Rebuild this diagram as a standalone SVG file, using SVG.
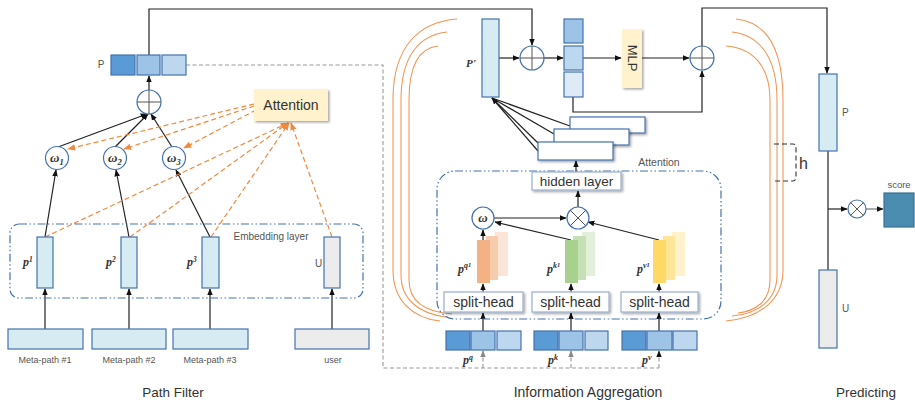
<svg xmlns="http://www.w3.org/2000/svg" width="915" height="403" viewBox="0 0 915 403">
<defs>
<style>
.bx{stroke:#4472b0;stroke-width:1.2}
.lb{fill:#d6ebf2}
.gy{fill:#ececec}
.c1{fill:#5b9bd5}.c2{fill:#9dc3e6}.c3{fill:#bdd7ee}.c4{fill:#deebf7}
.circ{fill:#fff;stroke:#4472b0;stroke-width:1.2}
.sym{stroke:#555;stroke-width:1;fill:none}
.ln{stroke:#222;stroke-width:1.2;fill:none}
.ar{marker-end:url(#ah)}
.od{stroke:#ef8a3f;stroke-width:1.2;stroke-dasharray:5 3;fill:none;marker-end:url(#ao)}
.gd{stroke:#999;stroke-width:1.1;stroke-dasharray:4 2.5;fill:none}
.dd{fill:none;stroke:#4472b0;stroke-width:1.2;stroke-dasharray:8 2.5 1.5 2.5 1.5 2.5}
.oc{fill:none;stroke:#f29450;stroke-width:1.05}
.wb{fill:#fff;stroke:#4472b0;stroke-width:1.2}
.wb2{fill:#fff;stroke:#9bb0cc;stroke-width:1.2}
.t{font-family:'Liberation Sans',Arial,sans-serif;fill:#333}
.s{font-family:'Liberation Sans',Arial,sans-serif;fill:#555}
.m{font-family:'Liberation Serif','DejaVu Serif',serif;font-style:italic;font-weight:bold;fill:#333}
</style>
<marker id="ah" viewBox="0 0 10 10" refX="9" refY="5" markerWidth="7" markerHeight="7" markerUnits="userSpaceOnUse" orient="auto"><path d="M0,1 L10,5 L0,9 z" fill="#111"/></marker>
<marker id="ao" viewBox="0 0 10 10" refX="9" refY="5" markerWidth="8" markerHeight="8" markerUnits="userSpaceOnUse" orient="auto"><path d="M0,1 L10,5 L0,9 z" fill="#ef8a3f"/></marker>
<marker id="ag" viewBox="0 0 10 10" refX="9" refY="5" markerWidth="7" markerHeight="7" markerUnits="userSpaceOnUse" orient="auto"><path d="M0,1 L10,5 L0,9 z" fill="#888"/></marker>
<filter id="sh" x="-20%" y="-20%" width="150%" height="170%"><feDropShadow dx="1.5" dy="1.5" stdDeviation="1.2" flood-color="#000" flood-opacity="0.35"/></filter>
</defs>
<rect width="915" height="403" fill="#fff"/>

<!-- connectors -->
<g id="connectors">
  <path class="gd" d="M186,65 H383 V368 H659"/>
  <path class="gd" d="M483,368 V351" marker-end="url(#ag)"/>
  <path class="gd" d="M571,368 V351" marker-end="url(#ag)"/>
  <path class="gd" d="M659,368 V351" marker-end="url(#ah)"/>
  <path class="ln ar" d="M149,55 V9 H532 V45"/>
  <path class="ln ar" d="M702,46 V8 H827 V73"/>
  <path class="ln ar" d="M149,90 V76"/>
  <path class="ln ar" d="M58,147 L147,114"/>
  <path class="ln ar" d="M115,147 L148,114"/>
  <path class="ln ar" d="M172,147 L151,114"/>
  <path class="ln ar" d="M45,237 L56,170"/>
  <path class="ln ar" d="M129,237 L116,170"/>
  <path class="ln ar" d="M210,237 L176,170"/>
  <path class="ln ar" d="M45,329 V289"/>
  <path class="ln ar" d="M129,329 V289"/>
  <path class="ln ar" d="M210,329 V289"/>
  <path class="ln ar" d="M332,329 V289"/>
  <path class="od" d="M254,104 L68,149"/>
  <path class="od" d="M254,106 L124,149"/>
  <path class="od" d="M256,110 L184,148"/>
  <path class="od" d="M45,237 L288,123"/>
  <path class="od" d="M130,237 L288,123"/>
  <path class="od" d="M211,237 L289,123"/>
  <path class="od" d="M332,237 L291,123"/>
  <path class="ln ar" d="M499,58 H519"/>
  <path class="ln ar" d="M544,58 H563"/>
  <path class="ln ar" d="M583,58 H621"/>
  <path class="ln ar" d="M642,58 H689"/>
  <path class="ln ar" d="M573,97 V112 H702 V71"/>
  <path class="ln" d="M570,126 L492,98"/>
  <path class="ln" d="M554,134 L492,98"/>
  <path class="ln" d="M538,143 L492,98"/>
  <path class="ln ar" d="M538,151 L492,98"/>
  <path class="ln ar" d="M576,172 V161"/>
  <path class="ln ar" d="M578,207 V191"/>
  <path class="ln ar" d="M494,218 H566"/>
  <path class="ln ar" d="M571,240 L495,222"/>
  <path class="ln ar" d="M659,240 L588,222"/>
  <path class="ln ar" d="M483,240 V230"/>
  <path class="ln ar" d="M483,292 V284"/>
  <path class="ln ar" d="M571,292 V284"/>
  <path class="ln ar" d="M659,292 V284"/>
  <path class="ln ar" d="M483,331 V313"/>
  <path class="ln ar" d="M571,331 V313"/>
  <path class="ln ar" d="M659,331 V313"/>
  <path class="ln" d="M828,151 V270"/>
  <path class="ln ar" d="M828,209 H847"/>
  <path class="ar" d="M866,209 H883" stroke="#777" stroke-width="1.2"/>
</g>

<g id="heads-left">
  <path class="oc" d="M457,19 C420,22 393,45 393,100 V270 C393,300 412,318 440,321"/>
  <path class="oc" d="M447,32 C420,35 401,55 401,100 V275 C401,300 420,314 446,317"/>
  <path class="oc" d="M438,46 C420,48 409,65 409,100 V280 C409,302 425,312 452,314"/>
</g>
<g id="heads-right">
  <path class="oc" d="M736,19 C765,22 783,45 783,100 V270 C783,300 760,318 726,321"/>
  <path class="oc" d="M732,32 C758,35 777,55 777,100 V275 C777,300 758,314 732,316"/>
  <path class="oc" d="M726,46 C752,48 770,65 770,100 V280 C770,302 755,311 738,313"/>
</g>
<g id="h-bracket">
  <path d="M774,144 H793 Q796,144 796,148 V177 Q796,181 793,181 H774" fill="none" stroke="#333" stroke-width="1.1" stroke-dasharray="5 3"/>
  <text class="t" x="799" y="169" font-size="16">h</text>
</g>

<g id="P-vec">
  <text class="s" x="101" y="68" font-size="10" text-anchor="middle">P</text>
  <rect class="bx c1" x="111" y="55" width="24" height="20"/>
  <rect class="bx c2" x="137" y="55" width="23" height="20"/>
  <rect class="bx c3" x="162" y="55" width="24" height="20"/>
</g>
<g id="sum-left">
  <circle class="circ" cx="149" cy="102" r="12"/>
  <path class="sym" d="M137,102 H161 M149,90 V114"/>
</g>
<g id="w1"><circle class="circ" cx="57" cy="158" r="11.5"/><text class="m" x="50" y="162" font-size="13" font-weight="normal">ω<tspan dy="3" font-size="8.5">1</tspan></text></g>
<g id="w2"><circle class="circ" cx="115" cy="158" r="11.5"/><text class="m" x="108" y="162" font-size="13" font-weight="normal">ω<tspan dy="3" font-size="8.5">2</tspan></text></g>
<g id="w3"><circle class="circ" cx="174" cy="158" r="11.5"/><text class="m" x="167" y="162" font-size="13" font-weight="normal">ω<tspan dy="3" font-size="8.5">3</tspan></text></g>
<g id="attention">
  <rect x="254" y="89" width="74" height="32" fill="#fff2cc" filter="url(#sh)"/>
  <text class="t" x="291" y="110" font-size="14" text-anchor="middle">Attention</text>
</g>
<g id="embedding-layer">
  <rect class="dd" x="10" y="224" width="353" height="74" rx="9"/>
  <text class="s" x="271" y="240" font-size="10" text-anchor="middle">Embedding layer</text>
</g>
<g id="p1"><rect class="bx lb" x="37" y="237" width="16" height="51"/><text class="m" x="23" y="266" font-size="12">p<tspan dy="-4" font-size="7.5">1</tspan></text></g>
<g id="p2"><rect class="bx lb" x="121" y="237" width="16" height="51"/><text class="m" x="106" y="266" font-size="12">p<tspan dy="-4" font-size="7.5">2</tspan></text></g>
<g id="p3"><rect class="bx lb" x="202" y="237" width="17" height="51"/><text class="m" x="187" y="266" font-size="12">p<tspan dy="-4" font-size="7.5">3</tspan></text></g>
<g id="U-emb"><rect class="bx gy" x="324" y="237" width="16" height="51"/><text class="s" x="315" y="267" font-size="10">U</text></g>
<g id="mp1"><rect class="bx lb" x="8" y="329" width="75" height="20"/><text class="s" x="45" y="363" font-size="9" text-anchor="middle">Meta-path #1</text></g>
<g id="mp2"><rect class="bx lb" x="92" y="329" width="74" height="20"/><text class="s" x="129" y="363" font-size="9" text-anchor="middle">Meta-path #2</text></g>
<g id="mp3"><rect class="bx lb" x="173" y="329" width="75" height="20"/><text class="s" x="210" y="363" font-size="9" text-anchor="middle">Meta-path #3</text></g>
<g id="user"><rect class="bx gy" x="295" y="329" width="74" height="20"/><text class="s" x="333" y="363" font-size="9" text-anchor="middle">user</text></g>
<text class="t" x="173" y="397" font-size="13.5" text-anchor="middle">Path Filter</text>

<g id="P-prime"><rect class="bx lb" x="482" y="19" width="17" height="78"/><text class="m" x="466" y="67" font-size="11" font-weight="normal">P'</text></g>
<g id="sum1"><circle class="circ" cx="532" cy="58" r="12"/><path class="sym" d="M520,58 H544 M532,46 V70"/></g>
<g id="vvec">
  <rect class="bx c2" x="564" y="19" width="19" height="24"/>
  <rect class="bx c3" x="564" y="46" width="19" height="24"/>
  <rect class="bx c4" x="564" y="72" width="19" height="25"/>
</g>
<g id="mlp">
  <rect x="622" y="29" width="20" height="59" fill="#fff2cc" filter="url(#sh)"/>
  <text class="t" x="0" y="0" font-size="13" text-anchor="middle" transform="translate(627.5,58) rotate(90)">MLP</text>
</g>
<g id="sum2"><circle class="circ" cx="702" cy="58" r="12"/><path class="sym" d="M690,58 H714 M702,46 V70"/></g>
<g id="att-stack">
  <rect class="wb" x="570" y="117" width="75" height="16" filter="url(#sh)"/>
  <rect class="wb" x="554" y="129" width="75" height="16" filter="url(#sh)"/>
  <rect class="wb" x="538" y="142" width="75" height="18" filter="url(#sh)"/>
  <text class="s" x="659" y="166" font-size="10.5" text-anchor="middle">Attention</text>
</g>
<g id="attention-block">
  <rect class="dd" x="437" y="171" width="284" height="148" rx="18"/>
</g>
<g id="hidden"><rect class="wb2" x="532" y="172" width="89" height="18" filter="url(#sh)"/><text class="t" x="576.5" y="186" font-size="13.5" text-anchor="middle">hidden layer</text></g>
<g id="omega"><circle class="circ" cx="483" cy="218" r="11"/><text class="m" x="483" y="222" font-size="13" font-weight="normal" text-anchor="middle">ω</text></g>
<g id="mul"><circle class="circ" cx="578" cy="218" r="11"/><path class="sym" d="M570.2,210.2 L585.8,225.8 M585.8,210.2 L570.2,225.8"/></g>
<g id="pq1">
  <rect x="495" y="232" width="13" height="44" fill="#fbe5d6"/>
  <rect x="486" y="236" width="12" height="44" fill="#f8cbad"/>
  <rect x="477" y="240" width="13" height="43" fill="#f4b183"/>
  <text class="m" x="458" y="273" font-size="12">p<tspan dy="-5" font-size="8">q</tspan><tspan dy="-1" font-size="6.5">1</tspan></text>
</g>
<g id="pk1">
  <rect x="582" y="232" width="13" height="44" fill="#e2f0d9"/>
  <rect x="573" y="236" width="13" height="44" fill="#c5e0b4"/>
  <rect x="565" y="240" width="13" height="43" fill="#a9d18e"/>
  <text class="m" x="547" y="273" font-size="12">p<tspan dy="-5" font-size="8">k</tspan><tspan dy="-1" font-size="6.5">1</tspan></text>
</g>
<g id="pv1">
  <rect x="672" y="232" width="13" height="44" fill="#fff2cc"/>
  <rect x="663" y="236" width="12" height="44" fill="#ffe699"/>
  <rect x="653" y="240" width="13" height="43" fill="#ffd966"/>
  <text class="m" x="637" y="273" font-size="12">p<tspan dy="-5" font-size="8">v</tspan><tspan dy="-1" font-size="6.5">1</tspan></text>
</g>
<g id="split1"><rect class="wb2" x="444" y="292" width="79" height="20" filter="url(#sh)"/><text class="t" x="483.5" y="307" font-size="14" text-anchor="middle">split-head</text></g>
<g id="split2"><rect class="wb2" x="532" y="292" width="77" height="20" filter="url(#sh)"/><text class="t" x="570.5" y="307" font-size="14" text-anchor="middle">split-head</text></g>
<g id="split3"><rect class="wb2" x="621" y="292" width="77" height="20" filter="url(#sh)"/><text class="t" x="659.5" y="307" font-size="14" text-anchor="middle">split-head</text></g>
<g id="Pq">
  <rect class="bx c1" x="446" y="331" width="24" height="19"/><rect class="bx c2" x="471" y="331" width="24" height="19"/><rect class="bx c3" x="497" y="331" width="24" height="19"/>
  <text class="m" x="463" y="364" font-size="12">p<tspan dy="-4" font-size="8">q</tspan></text>
</g>
<g id="Pk">
  <rect class="bx c1" x="534" y="331" width="24" height="19"/><rect class="bx c2" x="559" y="331" width="24" height="19"/><rect class="bx c3" x="585" y="331" width="23" height="19"/>
  <text class="m" x="548" y="364" font-size="12">p<tspan dy="-4" font-size="8">k</tspan></text>
</g>
<g id="Pv">
  <rect class="bx c1" x="622" y="331" width="24" height="19"/><rect class="bx c2" x="647" y="331" width="25" height="19"/><rect class="bx c3" x="673" y="331" width="24" height="19"/>
  <text class="m" x="642" y="364" font-size="12">p<tspan dy="-4" font-size="8">v</tspan></text>
</g>
<text class="t" x="588" y="397" font-size="14" text-anchor="middle">Information Aggregation</text>

<g id="P-pred"><rect class="bx lb" x="819" y="74" width="18" height="77"/><text class="s" x="842" y="116" font-size="10">P</text></g>
<g id="U-pred"><rect class="bx gy" x="819" y="270" width="18" height="78"/><text class="s" x="842" y="312" font-size="10">U</text></g>
<g id="mul-pred"><circle class="circ" cx="857" cy="209" r="9"/><path class="sym" d="M850.6,202.6 L863.4,215.4 M863.4,202.6 L850.6,215.4"/></g>
<g id="score"><rect x="884" y="193" width="30" height="34" fill="#4b8db1" stroke="#3a6f95" stroke-width="1.2"/><text class="s" x="899" y="188" font-size="9.5" text-anchor="middle">score</text></g>
<text class="t" x="866" y="397" font-size="13.5" text-anchor="middle">Predicting</text>
</svg>
